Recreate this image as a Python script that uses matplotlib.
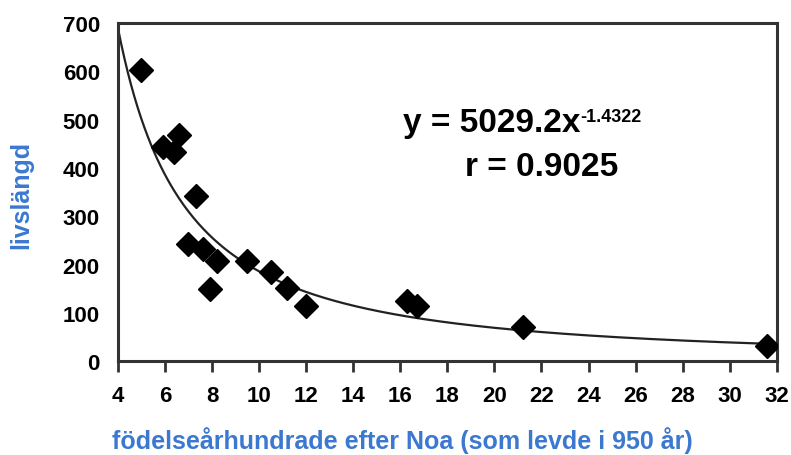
import numpy as np
import matplotlib
matplotlib.use("Agg")
import matplotlib.pyplot as plt

plt.rcParams['font.family'] = ['Liberation Sans', 'DejaVu Sans']

# points: century of birth after Noah, lifespan
century = [5.0, 5.9, 6.4, 6.6, 7.3, 7.0, 7.6, 8.2, 7.9, 9.5, 10.5, 11.2, 12.0,
           16.3, 16.7, 21.2, 31.6]
lifespan = [602, 443, 433, 468, 342, 242, 232, 207, 149, 207, 184, 151, 114,
            124, 114, 70, 31]

coef_a = 5029.2
coef_b = -1.4322

xticks = list(range(4, 33, 2))
yticks = list(range(0, 701, 100))

blue = '#3b78d0'

fig = plt.figure(figsize=(7.91, 4.56), dpi=100)
ax = fig.add_axes([0.149, 0.206, 0.833, 0.741])

xf = np.linspace(4, 32, 400)
ax.plot(xf, coef_a * xf ** coef_b, color='#222222', lw=1.6, zorder=2)
ax.plot(century, lifespan, 'D', color='black', ms=12.5, zorder=3)

ax.set_xlim(4, 32)
ax.set_ylim(0, 700)
ax.set_xticks(xticks)
ax.set_yticks(yticks)
ax.tick_params(axis='x', direction='out', length=8, width=2, color='#333333',
               labelsize=16, pad=9)
ax.tick_params(axis='y', length=0, labelsize=16, pad=13)
for lab in ax.get_xticklabels() + ax.get_yticklabels():
    lab.set_fontweight('bold')
for s in ax.spines.values():
    s.set_linewidth(2.2)
    s.set_color('#333333')

eq = ax.text(0.432, 0.707, 'y = %.1fx' % coef_a, transform=ax.transAxes,
             fontsize=24, fontweight='bold', ha='left', va='center')
ax.annotate('%.4f' % coef_b, xy=(1, 1), xycoords=eq, xytext=(0, -1),
            textcoords='offset points', fontsize=13, fontweight='bold',
            ha='left', va='top')
ax.text(0.527, 0.577, 'r = 0.9025', transform=ax.transAxes,
        fontsize=24, fontweight='bold', ha='left', va='center')

ax.text(0.432, -0.231, 'födelseårhundrade efter Noa (som levde i 950 år)',
        transform=ax.transAxes, color=blue, fontsize=18, fontweight='bold',
        ha='center', va='center')
ax.text(-0.146, 0.494, 'livslängd', transform=ax.transAxes, color=blue,
        fontsize=18, fontweight='bold', rotation=90, ha='center', va='center')

fig.savefig('out.png', dpi=100)
